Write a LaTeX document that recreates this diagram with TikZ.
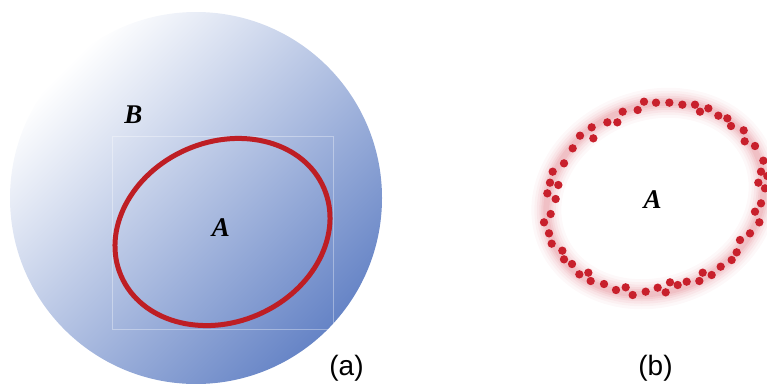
\documentclass[tikz,border=0pt]{standalone}
\usepackage{fontspec}
\newfontfamily\tnr{Liberation Serif}
\newfontfamily\arial{Liberation Sans}
\definecolor{bmid}{RGB}{184,198,233}
\definecolor{bdark}{RGB}{102,132,198}
\definecolor{ringred}{RGB}{190,30,36}
\definecolor{dotred}{RGB}{200,32,44}
\definecolor{glow}{RGB}{228,140,150}
\tikzset{
  lbl/.style={inner sep=0pt, font=\tnr\bfseries\itshape\fontsize{27}{27}\selectfont},
  captext/.style={inner sep=0pt, font=\arial\fontsize{28}{28}\selectfont},
  dotfill/.style={fill=dotred},
}
\begin{document}
\begin{tikzpicture}[x=1pt,y=-1pt]
\useasboundingbox (0,0) rectangle (767,383);
\clip (0,0) rectangle (767,383);
% (a)
\shade[shading=axis, top color=white, middle color=bmid, bottom color=bdark, shading angle=45] (196,198) circle (186pt);
\draw[white, opacity=0.35, line width=0.8pt] (112,136) rectangle (333,329);
\begin{scope}[shift={(222.5,232)}, rotate=23.5]
  \draw[ringred, line width=5pt] (0,0) ellipse (110.5pt and 90pt);
\end{scope}
\node[lbl] (B) at (133.5,115) {B};
\node[lbl] (A1) at (221,228) {A};
\node[captext] (capa) at (346.5,368) {(a)};
% (b)
\begin{scope}[shift={(655,198.5)}, rotate=22]
  \foreach \w/\o in {30/0.06,24/0.08,19/0.1,14/0.13,10/0.16,6/0.2}
    \draw[glow, line width=\w pt, opacity=\o] (0,0) ellipse (111pt and 93pt);
\end{scope}
\begin{scope}[shift={(530,90)}, scale=1/3]
  \foreach \px/\py in {342/35,378/38,418/38,457/44,495/44,510/65,535/55,565/77,592/85,603/108,641/121,644/154,675/168,700/212,693/245,712/258,685/278,705/295,693/340,675/365,688/397,660/430,630/450,620/487,605/510,572/530,545/555,518/548,508/573,470/575,443/585,420/577,407/607,383/593,347/605,308/615,287/592,258/600,222/582,182/573,175/548,148/553,126/522,102/508,97/482,65/461,57/430,42/397,62/372,77/327,52/310,85/285,60/278,68/245,102/220,128/175,150/137,190/145,185/112,232/97,262/97,278/65,323/60}
    \fill[dotfill] (\px,\py) circle (12.5);
\end{scope}
\node[lbl] (A2) at (652.5,199.5) {A};
\node[captext] (capb) at (655.5,368) {(b)};
\end{tikzpicture}
\end{document}
